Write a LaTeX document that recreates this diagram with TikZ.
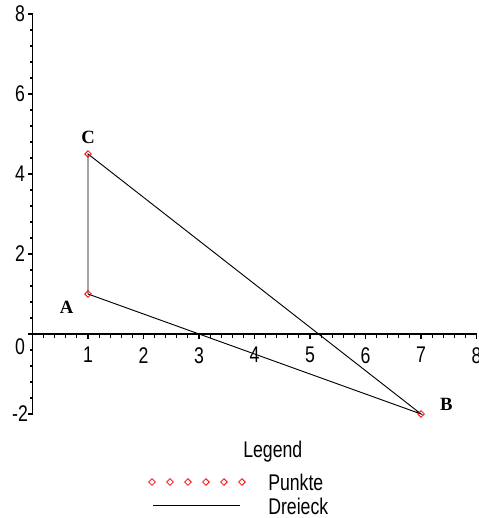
\documentclass[tikz,border=0pt]{standalone}
\usepackage{fontspec}
\setmainfont{Liberation Serif}
\newfontfamily\plotfont[FakeStretch=0.78]{Liberation Sans}
\usetikzlibrary{shapes.geometric, positioning}

\begin{document}
\begin{tikzpicture}[
    x=41.625pt, y=30pt,
    axis/.style={line width=0.9pt},
    tickmark/.style={line width=0.8pt},
    ticklabel/.style={font=\plotfont\fontsize{17}{20}\selectfont, inner sep=0pt},
    ptlabel/.style={font=\bfseries\fontsize{14}{16}\selectfont, inner sep=0pt},
    pointmark/.style={diamond, draw=red, line width=0.6pt, inner sep=0pt, minimum size=5.25pt},
    edge/.style={line width=0.7pt}
]
    \useasboundingbox (-0.586,-4.6) rectangle (8.027,8.35);

    % Axes
    \draw[axis] (0,0) -- (8,0);
    \draw[axis] (0,-2) -- (0,8);
    \foreach \k in {1,...,40}
        \draw[tickmark] (0.2*\k,0) -- ++(0,-3pt);
    \foreach \k in {1,...,8}
        \draw[tickmark] (\k,0) -- ++(0,-3.75pt);
    \foreach \k in {0,...,25}
        \draw[tickmark] (0,-2+0.4*\k) -- ++(-2pt,0);
    \foreach \k in {-2,0,2,4,6,8}
        \draw[tickmark] (0,\k) -- ++(-3.75pt,0);

    % Tick labels
    \foreach \k in {1,...,8}
        \node[ticklabel] (xl\k) at (\k,-0.53) {\k};
    \foreach \k in {-2,2,4,6,8}
        \node[ticklabel] (yl\k) at (-0.225,\k) {\k};
    \node[ticklabel] (yl0) at (-0.225,-0.325) {0};

    % Triangle
    \coordinate (A) at (1,1);
    \coordinate (B) at (7,-2);
    \coordinate (C) at (1,4.5);
    \draw[edge] (A) -- (B) -- (C) -- cycle;
    \node[pointmark] (mA) at (A) {};
    \node[pointmark] (mB) at (B) {};
    \node[pointmark] (mC) at (C) {};

    % Labels
    \node[ptlabel, xshift=-16pt, yshift=-10pt] (labA) at (A) {A};
    \node[ptlabel, xshift=19pt, yshift=7.5pt] (labB) at (B) {B};
    \node[ptlabel, yshift=12.5pt] (labC) at (C) {C};

    % Legend
    \node[ticklabel, anchor=west] (legend) at (3.793,-2.95) {Legend};
    \foreach \i in {0,...,5}
        \node[pointmark] (leg\i) at (2.153+0.324*\i,-3.7) {};
    \node[ticklabel, anchor=west] (punkte) at (4.243,-3.72) {Punkte};
    \coordinate (legL) at (2.171,-4.275);
    \coordinate (legR) at (3.739,-4.275);
    \draw[edge] (legL) -- (legR);
    \node[ticklabel, anchor=west] (dreieck) at (4.243,-4.3) {Dreieck};
\end{tikzpicture}
\end{document}
